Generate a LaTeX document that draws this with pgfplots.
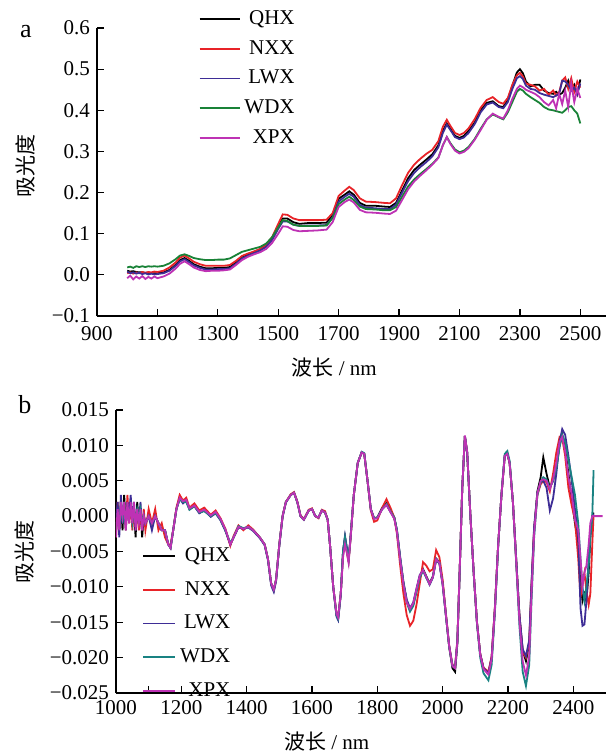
\documentclass[border=0pt]{standalone}
\usepackage{fontspec}
\setmainfont{Liberation Serif}
\newfontfamily\cjk{Noto Sans CJK SC}
\usepackage{pgfplots}
\usepackage{pgfplotstable}
\pgfplotsset{compat=1.18}

\definecolor{cQ}{RGB}{0,0,0}
\definecolor{cN}{RGB}{232,35,40}
\definecolor{cL}{RGB}{62,45,150}
\definecolor{cWa}{RGB}{25,130,55}
\definecolor{cWb}{RGB}{25,130,130}
\definecolor{cP}{RGB}{190,50,180}

% panel a: raw spectra
\pgfplotstableread{
x q n l w p
1000 0.010 0.004 0.008 0.018 -0.008
1010 0.008 0.006 0.004 0.020 -0.002
1020 0.009 0.003 0.006 0.017 -0.011
1030 0.007 0.006 0.003 0.021 -0.004
1040 0.006 0.004 0.005 0.019 -0.009
1050 0.006 0.007 0.002 0.021 -0.003
1060 0.005 0.005 0.004 0.019 -0.010
1070 0.005 0.007 0.001 0.021 -0.005
1080 0.004 0.006 0.003 0.020 -0.009
1090 0.004 0.008 0.001 0.021 -0.004
1100 0.004 0.007 0.002 0.020 -0.008
1120 0.006 0.010 0.004 0.022 -0.004
1140 0.012 0.018 0.010 0.028 0.003
1160 0.024 0.030 0.022 0.038 0.015
1175 0.036 0.042 0.033 0.047 0.027
1190 0.041 0.047 0.038 0.050 0.033
1205 0.034 0.040 0.031 0.046 0.026
1220 0.026 0.032 0.023 0.041 0.018
1240 0.020 0.026 0.017 0.038 0.012
1260 0.016 0.022 0.013 0.036 0.009
1280 0.016 0.022 0.013 0.036 0.010
1300 0.017 0.022 0.014 0.037 0.010
1320 0.017 0.022 0.014 0.037 0.011
1340 0.019 0.024 0.016 0.040 0.013
1360 0.030 0.034 0.027 0.048 0.024
1380 0.044 0.046 0.040 0.056 0.036
1400 0.050 0.052 0.047 0.060 0.044
1420 0.056 0.057 0.053 0.064 0.050
1440 0.062 0.063 0.059 0.068 0.055
1460 0.072 0.073 0.068 0.076 0.063
1480 0.090 0.092 0.085 0.092 0.078
1500 0.118 0.124 0.112 0.116 0.100
1515 0.137 0.147 0.130 0.133 0.118
1530 0.137 0.146 0.130 0.131 0.117
1550 0.128 0.137 0.122 0.122 0.109
1570 0.124 0.133 0.119 0.119 0.106
1600 0.126 0.133 0.120 0.119 0.107
1630 0.126 0.133 0.120 0.119 0.108
1660 0.127 0.134 0.121 0.120 0.110
1680 0.145 0.150 0.140 0.138 0.128
1700 0.185 0.192 0.178 0.172 0.165
1720 0.195 0.205 0.190 0.183 0.177
1735 0.203 0.214 0.197 0.190 0.183
1750 0.195 0.206 0.190 0.182 0.176
1770 0.175 0.186 0.170 0.166 0.158
1790 0.168 0.178 0.163 0.160 0.152
1820 0.168 0.177 0.162 0.159 0.151
1850 0.166 0.175 0.160 0.157 0.149
1870 0.165 0.174 0.160 0.157 0.148
1890 0.175 0.186 0.171 0.165 0.156
1910 0.205 0.218 0.200 0.190 0.182
1930 0.235 0.248 0.228 0.215 0.208
1950 0.255 0.268 0.248 0.232 0.227
1970 0.268 0.282 0.262 0.245 0.241
1990 0.280 0.294 0.274 0.257 0.254
2010 0.293 0.304 0.288 0.270 0.268
2030 0.315 0.325 0.310 0.285 0.284
2045 0.350 0.360 0.345 0.315 0.315
2058 0.368 0.377 0.365 0.335 0.335
2070 0.355 0.362 0.352 0.320 0.318
2085 0.338 0.345 0.335 0.305 0.302
2100 0.333 0.340 0.330 0.298 0.295
2115 0.338 0.345 0.334 0.302 0.299
2130 0.350 0.356 0.345 0.311 0.308
2150 0.370 0.378 0.366 0.330 0.328
2170 0.400 0.406 0.395 0.355 0.352
2190 0.418 0.425 0.414 0.378 0.377
2210 0.422 0.432 0.419 0.390 0.392
2230 0.410 0.420 0.408 0.383 0.384
2245 0.408 0.416 0.405 0.378 0.380
2260 0.425 0.430 0.420 0.395 0.400
2275 0.460 0.462 0.452 0.420 0.428
2290 0.492 0.485 0.478 0.445 0.452
2300 0.500 0.491 0.483 0.452 0.460
2310 0.490 0.482 0.476 0.448 0.456
2320 0.470 0.465 0.460 0.440 0.450
2335 0.458 0.462 0.452 0.432 0.445
2350 0.462 0.458 0.450 0.425 0.440
2365 0.462 0.448 0.442 0.418 0.432
2380 0.448 0.452 0.438 0.408 0.420
2395 0.442 0.438 0.435 0.402 0.412
2410 0.440 0.448 0.432 0.400 0.425
2420 0.445 0.436 0.436 0.398 0.405
2430 0.438 0.444 0.440 0.396 0.440
2440 0.442 0.472 0.472 0.394 0.415
2450 0.455 0.480 0.470 0.400 0.448
2460 0.472 0.452 0.462 0.408 0.408
2470 0.450 0.478 0.448 0.410 0.465
2480 0.462 0.445 0.455 0.400 0.420
2490 0.440 0.470 0.440 0.392 0.452
2500 0.475 0.455 0.465 0.368 0.430
}\rawdata

% panel b: derivative spectra
\pgfplotstableread{
x q n l w p
1000 -0.0020 -0.0030 -0.0010 -0.0020 -0.0030
1005 0.0010 0.0020 0.0020 0.0000 0.0010
1010 -0.0020 -0.0010 -0.0030 -0.0010 -0.0020
1015 0.0020 0.0010 0.0030 0.0020 0.0020
1020 -0.0020 0.0000 -0.0010 -0.0010 0.0000
1025 0.0030 0.0020 0.0010 0.0020 0.0020
1030 -0.0010 -0.0020 -0.0020 -0.0010 -0.0020
1035 0.0020 0.0030 0.0020 0.0010 0.0020
1040 0.0000 -0.0010 0.0000 0.0010 -0.0010
1045 0.0020 0.0020 0.0030 0.0010 0.0020
1050 -0.0010 -0.0020 -0.0010 -0.0010 -0.0010
1055 0.0010 0.0010 0.0020 0.0010 0.0020
1060 -0.0030 -0.0010 -0.0020 -0.0010 -0.0020
1065 0.0020 0.0010 0.0010 0.0010 0.0010
1070 -0.0010 -0.0020 -0.0010 0.0000 -0.0010
1075 0.0010 0.0010 0.0020 0.0010 0.0010
1080 -0.0030 -0.0020 -0.0020 -0.0010 -0.0020
1085 0.0000 0.0010 0.0000 0.0000 0.0000
1090 -0.0010 -0.0020 -0.0010 -0.0010 -0.0010
1100 0.0000 0.0010 0.0000 0.0000 0.0000
1110 -0.0010 -0.0010 -0.0020 -0.0010 -0.0010
1120 0.0000 0.0010 0.0000 0.0000 0.0000
1130 -0.0010 -0.0020 -0.0010 -0.0010 -0.0010
1140 -0.0020 -0.0010 -0.0020 -0.0020 -0.0020
1150 -0.0020 -0.0030 -0.0020 -0.0020 -0.0020
1160 -0.0040 -0.0040 -0.0040 -0.0040 -0.0040
1167 -0.0045 -0.0040 -0.0045 -0.0045 -0.0045
1175 -0.0020 -0.0020 -0.0020 -0.0020 -0.0020
1185 0.0010 0.0012 0.0010 0.0010 0.0010
1195 0.0025 0.0030 0.0025 0.0024 0.0026
1205 0.0020 0.0022 0.0018 0.0020 0.0021
1215 0.0022 0.0026 0.0022 0.0020 0.0023
1225 0.0010 0.0012 0.0010 0.0009 0.0011
1240 0.0015 0.0018 0.0014 0.0014 0.0015
1255 0.0005 0.0008 0.0004 0.0005 0.0006
1270 0.0008 0.0012 0.0008 0.0007 0.0009
1290 0.0000 0.0002 -0.0001 0.0000 0.0001
1305 0.0005 0.0008 0.0004 0.0004 0.0006
1320 -0.0005 -0.0003 -0.0006 -0.0005 -0.0004
1335 -0.0020 -0.0018 -0.0021 -0.0020 -0.0019
1350 -0.0040 -0.0042 -0.0040 -0.0038 -0.0040
1360 -0.0030 -0.0028 -0.0030 -0.0030 -0.0030
1375 -0.0015 -0.0013 -0.0016 -0.0014 -0.0015
1390 -0.0018 -0.0020 -0.0018 -0.0017 -0.0018
1405 -0.0015 -0.0013 -0.0016 -0.0015 -0.0015
1420 -0.0020 -0.0019 -0.0021 -0.0020 -0.0020
1440 -0.0030 -0.0030 -0.0031 -0.0030 -0.0030
1455 -0.0040 -0.0040 -0.0041 -0.0040 -0.0040
1465 -0.0060 -0.0060 -0.0062 -0.0060 -0.0060
1475 -0.0095 -0.0095 -0.0098 -0.0095 -0.0095
1483 -0.0105 -0.0104 -0.0107 -0.0104 -0.0104
1490 -0.0090 -0.0090 -0.0092 -0.0090 -0.0090
1500 -0.0040 -0.0040 -0.0042 -0.0040 -0.0040
1510 0.0000 0.0000 -0.0001 0.0000 0.0000
1520 0.0020 0.0020 0.0019 0.0020 0.0020
1535 0.0030 0.0031 0.0030 0.0030 0.0030
1545 0.0033 0.0034 0.0033 0.0033 0.0033
1555 0.0020 0.0021 0.0020 0.0020 0.0020
1565 0.0000 0.0001 0.0000 0.0000 0.0000
1575 -0.0005 -0.0004 -0.0005 -0.0005 -0.0005
1590 0.0008 0.0009 0.0008 0.0008 0.0008
1600 0.0010 0.0011 0.0010 0.0010 0.0010
1610 0.0000 0.0000 0.0000 0.0000 0.0000
1620 -0.0002 -0.0003 -0.0002 -0.0002 -0.0002
1630 0.0008 0.0009 0.0008 0.0008 0.0008
1640 0.0005 0.0007 0.0005 0.0005 0.0005
1648 -0.0005 -0.0005 -0.0005 -0.0005 -0.0005
1655 -0.0040 -0.0040 -0.0040 -0.0040 -0.0040
1665 -0.0100 -0.0100 -0.0100 -0.0100 -0.0100
1675 -0.0140 -0.0138 -0.0142 -0.0140 -0.0138
1680 -0.0145 -0.0143 -0.0147 -0.0145 -0.0143
1688 -0.0110 -0.0110 -0.0112 -0.0110 -0.0110
1695 -0.0050 -0.0055 -0.0050 -0.0050 -0.0058
1701 -0.0030 -0.0035 -0.0028 -0.0030 -0.0040
1706 -0.0045 -0.0050 -0.0042 -0.0045 -0.0050
1712 -0.0062 -0.0064 -0.0060 -0.0062 -0.0066
1718 -0.0030 -0.0032 -0.0030 -0.0030 -0.0032
1728 0.0030 0.0030 0.0030 0.0030 0.0030
1740 0.0075 0.0075 0.0075 0.0075 0.0075
1752 0.0090 0.0090 0.0090 0.0091 0.0090
1760 0.0088 0.0088 0.0088 0.0089 0.0088
1770 0.0050 0.0050 0.0050 0.0050 0.0050
1780 0.0010 0.0008 0.0010 0.0010 0.0010
1790 -0.0003 -0.0008 -0.0003 -0.0003 -0.0004
1800 -0.0002 -0.0006 -0.0002 -0.0002 -0.0003
1815 0.0012 0.0012 0.0010 0.0010 0.0010
1828 0.0018 0.0024 0.0016 0.0017 0.0016
1840 0.0008 0.0012 0.0006 0.0007 0.0006
1852 -0.0002 -0.0002 -0.0003 -0.0002 -0.0004
1860 -0.0020 -0.0025 -0.0020 -0.0020 -0.0022
1870 -0.0060 -0.0070 -0.0058 -0.0060 -0.0062
1880 -0.0095 -0.0110 -0.0093 -0.0095 -0.0097
1890 -0.0120 -0.0140 -0.0118 -0.0122 -0.0122
1900 -0.0133 -0.0155 -0.0130 -0.0135 -0.0131
1910 -0.0125 -0.0148 -0.0122 -0.0127 -0.0123
1920 -0.0105 -0.0125 -0.0102 -0.0107 -0.0103
1930 -0.0085 -0.0095 -0.0083 -0.0087 -0.0084
1940 -0.0075 -0.0065 -0.0077 -0.0077 -0.0076
1950 -0.0085 -0.0070 -0.0087 -0.0087 -0.0086
1960 -0.0095 -0.0078 -0.0097 -0.0096 -0.0096
1970 -0.0085 -0.0075 -0.0087 -0.0086 -0.0086
1980 -0.0060 -0.0048 -0.0062 -0.0061 -0.0061
1990 -0.0065 -0.0058 -0.0067 -0.0066 -0.0066
2000 -0.0095 -0.0090 -0.0097 -0.0096 -0.0096
2010 -0.0140 -0.0138 -0.0141 -0.0141 -0.0140
2020 -0.0185 -0.0183 -0.0184 -0.0185 -0.0184
2030 -0.0215 -0.0210 -0.0211 -0.0212 -0.0212
2038 -0.0220 -0.0213 -0.0214 -0.0215 -0.0215
2045 -0.0180 -0.0175 -0.0177 -0.0177 -0.0177
2052 -0.0080 -0.0078 -0.0079 -0.0079 -0.0079
2060 0.0040 0.0040 0.0040 0.0040 0.0040
2068 0.0113 0.0113 0.0113 0.0113 0.0114
2075 0.0090 0.0090 0.0090 0.0090 0.0091
2085 0.0000 0.0000 0.0000 0.0000 0.0000
2095 -0.0080 -0.0080 -0.0080 -0.0081 -0.0080
2105 -0.0150 -0.0150 -0.0150 -0.0152 -0.0150
2115 -0.0195 -0.0195 -0.0195 -0.0200 -0.0196
2125 -0.0215 -0.0214 -0.0215 -0.0222 -0.0216
2140 -0.0222 -0.0220 -0.0222 -0.0232 -0.0224
2150 -0.0200 -0.0198 -0.0200 -0.0210 -0.0202
2160 -0.0130 -0.0128 -0.0130 -0.0135 -0.0131
2170 -0.0040 -0.0040 -0.0040 -0.0042 -0.0040
2180 0.0030 0.0030 0.0030 0.0031 0.0030
2190 0.0085 0.0085 0.0085 0.0088 0.0085
2198 0.0088 0.0088 0.0088 0.0092 0.0088
2205 0.0075 0.0075 0.0075 0.0078 0.0075
2215 0.0020 0.0020 0.0020 0.0020 0.0020
2225 -0.0060 -0.0062 -0.0060 -0.0065 -0.0063
2235 -0.0140 -0.0142 -0.0140 -0.0155 -0.0148
2245 -0.0190 -0.0192 -0.0188 -0.0220 -0.0205
2255 -0.0205 -0.0200 -0.0198 -0.0240 -0.0225
2265 -0.0180 -0.0178 -0.0175 -0.0210 -0.0198
2272 -0.0100 -0.0098 -0.0095 -0.0120 -0.0110
2280 -0.0020 -0.0018 -0.0015 -0.0030 -0.0025
2290 0.0035 0.0030 0.0033 0.0030 0.0032
2300 0.0055 0.0045 0.0048 0.0048 0.0050
2308 0.0083 0.0050 0.0050 0.0055 0.0052
2318 0.0060 0.0048 0.0040 0.0052 0.0050
2328 0.0040 0.0035 0.0008 0.0040 0.0038
2338 0.0050 0.0060 0.0025 0.0050 0.0052
2348 0.0070 0.0090 0.0060 0.0068 0.0075
2358 0.0100 0.0112 0.0105 0.0098 0.0105
2366 0.0115 0.0110 0.0123 0.0115 0.0112
2375 0.0095 0.0085 0.0115 0.0105 0.0092
2385 0.0060 0.0040 0.0085 0.0080 0.0055
2395 0.0025 0.0015 0.0050 0.0055 0.0030
2405 -0.0010 -0.0005 0.0010 0.0030 -0.0005
2415 -0.0040 -0.0060 -0.0030 -0.0010 -0.0020
2422 -0.0090 -0.0115 -0.0130 -0.0060 -0.0060
2428 -0.0120 -0.0095 -0.0155 -0.0100 -0.0100
2434 -0.0110 -0.0080 -0.0153 -0.0120 -0.0080
2440 -0.0120 -0.0105 -0.0120 -0.0100 -0.0070
2447 -0.0080 -0.0125 -0.0060 -0.0070 -0.0040
2452 -0.0030 -0.0110 -0.0020 -0.0030 -0.0010
2458 0.0000 -0.0040 0.0000 0.0000 0.0000
2462 0.0005 0.0002 0.0003 0.0065 0.0000
2490 nan nan nan nan 0.0000
}\derivdata

\pgfplotsset{
  spec/.style={
    scale only axis,
    axis lines*=left,
    axis line style={line width=0.7pt},
    tick style={line width=0.6pt, black},
    tick align=inside,
    major tick length=3.5pt,
    minor tick length=3.5pt,
    tick label style={font=\fontsize{10.5}{12}\selectfont},
    label style={font=\fontsize{10.5}{12}\selectfont},
    /pgf/number format/assume math mode=true,
    /pgf/number format/1000 sep={},
    scaled y ticks=false,
    legend cell align=right,
    legend style={draw=none, fill=none, font=\fontsize{10.5}{12}\selectfont,
      inner sep=1pt},
  },
  sq/.style={line width=0.9pt},
}

\begin{document}
\begin{tikzpicture}
\path[use as bounding box] (-48.5pt,-217.5pt) rectangle (254.5pt,158pt);
\begin{axis}[spec,
  width=254.5pt, height=144pt,
  xmin=900, xmax=2585, ymin=-0.1, ymax=0.6,
  xtick={900,1100,1300,1500,1700,1900,2100,2300,2500},
  ytick={-0.1,0,0.1,0.2,0.3,0.4,0.5,0.6},
  yticklabels={−0.1,0.0,0.1,0.2,0.3,0.4,0.5,0.6},
  xticklabel style={yshift=-1.5pt},
  xlabel={{\cjk 波长} / nm},
  xlabel style={at={(axis description cs:0.466,-0.18)}, anchor=center},
  ylabel={\cjk 吸光度},
  ylabel style={at={(axis description cs:-0.141,0.52)}, anchor=center},
  legend image code/.code={\draw[#1, line width=0.9pt] (0pt,0pt) -- (20pt,0pt);},
  legend style={at={(rel axis cs:0.195,1.083)}, anchor=north west, row sep=2.5pt},
]
\addplot[sq, cQ] table[x=x,y=q] {\rawdata};
\addplot[sq, cN] table[x=x,y=n] {\rawdata};
\addplot[sq, cL] table[x=x,y=l] {\rawdata};
\addplot[sq, cWa] table[x=x,y=w] {\rawdata};
\addplot[sq, cP] table[x=x,y=p] {\rawdata};
\legend{QHX,NXX,LWX,WDX,XPX}
\end{axis}

\begin{axis}[spec,
  at={(9.5pt,-188.5pt)},
  width=245pt, height=141.5pt,
  xmin=1000, xmax=2500, ymin=-0.025, ymax=0.015,
  xtick={1000,1200,1400,1600,1800,2000,2200,2400},
  minor xtick={1100},
  ytick={-0.025,-0.02,-0.015,-0.01,-0.005,0,0.005,0.01,0.015},
  yticklabels={−0.025,−0.020,−0.015,−0.010,−0.005,0.000,0.005,0.010,0.015},
  xticklabel style={yshift=0pt},
  xlabel={{\cjk 波长} / nm},
  xlabel style={at={(axis description cs:0.43,-0.17)}, anchor=center},
  ylabel={\cjk 吸光度},
  ylabel style={at={(axis description cs:-0.186,0.5)}, anchor=center},
  legend image code/.code={\draw[#1, line width=0.9pt] (0pt,0pt) -- (16pt,0pt);},
  legend style={at={(rel axis cs:0.049,0.537)}, anchor=north west, row sep=4.5pt},
]
\addplot[sq, cQ] table[x=x,y=q] {\derivdata};
\addplot[sq, cN] table[x=x,y=n] {\derivdata};
\addplot[sq, cL] table[x=x,y=l] {\derivdata};
\addplot[sq, cWb] table[x=x,y=w] {\derivdata};
\addplot[sq, cP] table[x=x,y=p] {\derivdata};
\legend{QHX,NXX,LWX,WDX,XPX}
\end{axis}

\node[font=\fontsize{13}{14}\selectfont] at (-35.5pt,142pt) {a};
\node[font=\fontsize{13}{14}\selectfont] at (-36pt,-44.5pt) {b};
\end{tikzpicture}
\end{document}
